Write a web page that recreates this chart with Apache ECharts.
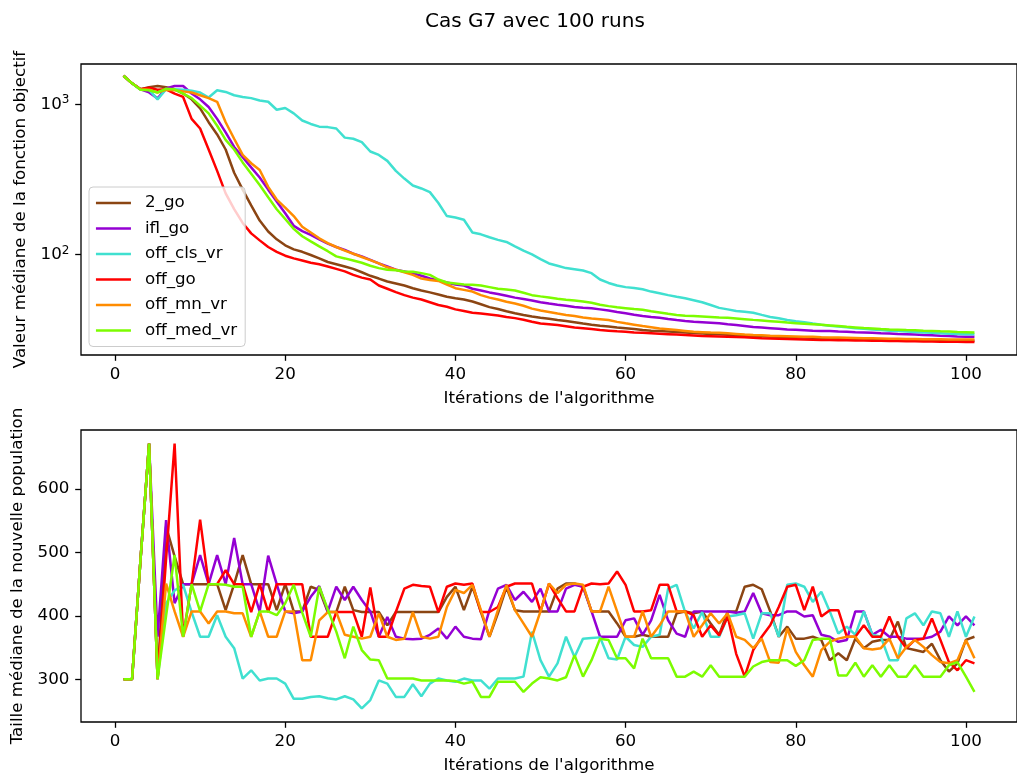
<!DOCTYPE html>
<html><head><meta charset="utf-8">
<script src="https://cdn.jsdelivr.net/npm/echarts@6/dist/echarts.min.js"></script>
<style>html,body{margin:0;padding:0;background:#fff}#c{width:1017px;height:776px}</style>
</head><body><div id="c"></div>
<script>
const seriesNames = ['2_go', 'ifl_go', 'off_cls_vr', 'off_go', 'off_mn_vr', 'off_med_vr'];
const seriesColors = ['#8B4513', '#9400D3', '#40E0D0', '#FF0000', '#FF8C00', '#7CFC00'];
const iterations = Array.from({length: 101}, (_, k) => k + 1);
const xTicks = [0, 20, 40, 60, 80, 100];
const logMajorTicks = [100, 1000];
const logMinorTicks = [30, 40, 50, 60, 70, 80, 90, 200, 300, 400, 500, 600, 700, 800, 900];
const popTicks = [300, 400, 500, 600];

// Top: median objective value (log scale)
const obj_2_go = [1550,1380,1260,1300,1325,1300,1260,1180,1080,940,
 760,630,500,350,270,212,168,142,126,115,
 108,104,99,94,89,86,83,80,76,72,
 69,66,64,62,59.5,57.5,55.8,54,52.2,51,
 50,48.5,46.5,44.5,43.2,41.8,40.5,39.4,38.5,37.8,
 37.2,36.5,36.0,35.3,34.6,34.0,33.5,33.1,32.6,32.2,
 31.8,31.3,31.0,30.8,30.6,30.4,30.1,29.9,29.7,29.5,
 29.3,29.1,29.0,28.8,28.7,28.5,28.4,28.3,28.1,28.0,
 27.9,27.8,27.7,27.6,27.5,27.4,27.4,27.3,27.2,27.2,
 27.1,27.0,27.0,26.9,26.9,26.8,26.8,26.7,26.7,26.6,
 26.6];
const obj_ifl_go = [1550,1380,1260,1200,1096,1278,1325,1325,1180,1080,
 960,800,650,520,445,380,325,270,225,188,
 155,143,135,126,118,112,107,101,97,92,
 87,83,79,77,75,72,69,67,65,63,
 62,59,57.5,55.8,54.5,53,51.5,50.5,49.3,48,
 47,46.2,45.5,44.6,44.1,43.7,43.0,42.2,41.3,40.5,
 39.6,38.9,38.3,37.8,37.1,36.5,36.0,35.6,35.3,35.0,
 34.7,34.2,33.8,33.3,32.8,32.5,32.2,31.9,31.6,31.4,
 31.2,31.0,30.9,30.8,30.6,30.5,30.3,30.2,30.0,29.8,
 29.7,29.5,29.4,29.2,29.0,28.9,28.7,28.6,28.4,28.3,
 28.2];
const obj_off_cls_vr = [1550,1380,1250,1250,1080,1260,1260,1250,1230,1200,
 1110,1240,1210,1150,1120,1100,1060,1040,920,945,
 870,780,740,710,705,690,600,590,560,485,
 460,420,360,320,288,275,260,220,180,176,
 170,140,136,130,125,121,113,106,100,93,
 87,84,81,79.5,78,75,68,64.5,62,60.5,
 59.7,58.5,56.5,55,53.5,52.2,51,49.5,48,46,
 44,43,42,41.4,40.8,39.5,38.3,37.5,36.5,35.8,
 35.3,34.6,34.0,33.5,33.1,32.7,32.2,31.9,31.6,31.3,
 31.0,30.8,30.6,30.4,30.2,30.0,29.8,29.6,29.5,29.4,
 29.3];
const obj_off_go = [1550,1380,1260,1290,1250,1260,1180,1120,800,690,
 500,360,255,200,162,138,124,112,104,98,
 94,91,88,86,83,80,77,73,70,68,
 62,59,56,53.5,51.5,50,48,46,44.8,43,
 41.9,40.8,40.3,39.8,39.2,38.2,37.6,36.7,35.6,34.6,
 34.2,33.8,33.2,32.6,32.2,31.8,31.3,31.0,30.7,30.5,
 30.2,30.0,29.8,29.6,29.4,29.2,29.0,28.8,28.6,28.5,
 28.4,28.3,28.1,28.0,27.8,27.6,27.5,27.4,27.3,27.2,
 27.1,27.0,26.9,26.9,26.8,26.8,26.7,26.7,26.6,26.6,
 26.5,26.5,26.4,26.4,26.3,26.3,26.2,26.2,26.2,26.1,
 26.1];
const obj_off_mn_vr = [1550,1380,1260,1250,1200,1250,1240,1220,1200,1150,
 1100,1040,760,590,460,405,365,282,232,205,
 180,153,140,128,119,112,106,101,96,91.6,
 87,82,79,76,73,69,67.5,66.5,63,59.5,
 58,56.5,53.5,51.5,50,48.3,47,45.5,43.5,42.3,
 41.3,40.3,39.5,38.8,38.0,37.4,37.0,36.5,35.5,34.7,
 34.0,33.3,32.7,32.1,31.7,31.3,30.9,30.5,30.3,30.1,
 30.0,29.8,29.5,29.2,29.0,28.9,28.7,28.6,28.5,28.4,
 28.3,28.2,28.0,27.9,27.9,27.8,27.7,27.6,27.6,27.5,
 27.4,27.4,27.3,27.3,27.2,27.2,27.2,27.1,27.1,27.1,
 27.1];
const obj_off_med_vr = [1550,1380,1250,1240,1200,1270,1260,1180,1100,980,
 870,720,580,500,410,345,290,240,200,172,
 148,132,122,113,105,97,94,91,88,84,
 81,79,78.5,77,76.5,75,73,68,65,64,
 63,62.8,62,60.5,59,58.3,57.5,55.5,53.5,52.5,
 51.6,50.6,49.8,49.2,48.5,47.6,46.2,45.2,44.4,43.8,
 43.2,42.7,41.8,41.0,40.2,39.5,39.0,38.8,38.6,38.3,
 38.0,37.8,37.4,37.0,36.6,36.3,35.9,35.5,35.1,34.8,
 34.5,34.2,33.9,33.6,33.3,32.9,32.6,32.3,32.1,31.8,
 31.6,31.5,31.3,31.2,31.0,30.9,30.7,30.6,30.4,30.3,
 30.2];

// Bottom: median new population size
const pop_2_go = [300,300,490,672,300,541,494,450,450,450,
 450,450,409,450,496,450,450,450,409,450,
 407,407,446,441,406,406,446,409,406,406,
 406,385,406,406,406,406,406,406,430,446,
 409,446,406,367,404,445,409,407,407,407,
 407,443,451,451,446,407,407,407,388,367,
 367,370,367,367,367,404,407,404,407,388,
 370,407,407,446,449,442,407,367,383,364,
 364,367,362,330,341,330,364,349,359,362,
 362,391,349,346,343,356,330,312,325,362,
 367];
const pop_ifl_go = [300,300,490,672,367,551,420,450,450,496,
 450,496,450,523,450,450,407,495,450,407,
 404,407,430,447,407,446,425,446,425,407,
 367,398,367,364,363,364,370,380,364,383,
 367,364,363,409,443,449,425,438,422,443,
 407,407,443,449,446,407,367,367,367,393,
 396,370,393,433,393,372,367,407,407,407,
 407,407,405,407,436,404,401,401,407,407,
 399,401,370,367,359,362,407,407,370,378,
 367,367,364,364,364,367,375,399,385,399,
 385];
const pop_off_cls_vr = [300,300,490,672,300,420,440,449,406,367,
 367,401,367,349,301,314,298,301,301,293,
 269,269,272,273,270,268,273,268,254,267,
 298,293,272,272,292,273,293,301,298,296,
 301,298,298,285,301,301,301,304,375,330,
 304,325,367,335,364,365,366,333,331,367,
 354,351,367,370,443,449,406,380,406,367,
 367,399,401,404,364,404,404,367,449,451,
 446,422,438,407,372,383,370,407,370,367,
 330,330,396,404,385,407,404,367,407,367,
 399];
const pop_off_go = [300,300,490,672,300,490,672,367,450,552,
 450,450,472,450,450,406,450,406,450,450,
 450,450,367,367,367,406,406,406,367,445,
 367,367,406,443,449,447,446,406,446,451,
 449,451,406,406,414,446,451,451,451,407,
 451,428,407,407,446,451,450,451,470,449,
 407,407,409,449,449,407,407,401,367,385,
 369,399,340,304,346,367,385,414,446,449,
 409,446,399,409,409,367,367,385,367,367,
 399,367,349,362,364,396,362,327,314,330,
 325];
const pop_off_mn_vr = [300,300,490,672,300,451,407,367,407,407,
 388,407,407,404,404,367,407,367,367,407,
 407,330,330,393,406,406,370,367,364,367,
 404,367,362,364,406,367,364,367,414,441,
 436,449,409,367,409,449,409,388,367,407,
 451,436,449,451,449,407,407,446,407,367,
 367,407,367,385,407,407,407,367,385,404,
 388,404,367,362,349,364,327,326,380,343,
 322,304,346,359,364,367,367,349,347,349,
 364,333,351,362,351,338,327,325,330,362,
 333];
const pop_off_med_vr = [300,300,490,672,300,400,496,367,450,407,
 450,450,449,446,446,367,407,407,401,420,
 449,405,367,446,410,375,333,383,346,331,
 330,301,301,301,301,298,298,298,298,297,
 293,296,272,272,296,296,296,280,293,303,
 301,298,303,338,304,330,364,362,333,333,
 317,364,333,333,333,304,304,312,304,322,
 304,304,304,304,320,327,330,330,330,321,
 330,362,364,364,306,306,326,304,322,304,
 322,304,304,322,304,304,304,322,327,304,
 280];

const objSeries = [obj_2_go, obj_ifl_go, obj_off_cls_vr, obj_off_go, obj_off_mn_vr, obj_off_med_vr];
const popSeries = [pop_2_go, pop_ifl_go, pop_off_cls_vr, pop_off_go, pop_off_mn_vr, pop_off_med_vr];

const FONT = 'DejaVu Sans';
const FS = 16.7;
const labelStyle = {color: '#000', fontSize: FS, fontFamily: FONT};
const tickStyle = {color: '#000', width: 1.3};

function xAxisFor(gridIndex) {
  return {
    gridIndex, type: 'value', min: -4, max: 106,
    axisLine: {show: false, onZero: false}, splitLine: {show: false},
    axisTick: {show: true, length: 5.8, lineStyle: tickStyle, customValues: xTicks},
    axisLabel: Object.assign({customValues: xTicks, margin: 11.6}, labelStyle),
    name: "Itérations de l'algorithme", nameLocation: 'middle', nameGap: 35,
    nameTextStyle: labelStyle
  };
}

const series = [];
seriesNames.forEach((name, s) => {
  series.push({
    type: 'line', name, xAxisIndex: 0, yAxisIndex: 0,
    data: iterations.map((x, k) => [x, objSeries[s][k]]),
    symbol: 'none', showSymbol: false,
    lineStyle: {width: 2.5, color: seriesColors[s]},
    itemStyle: {color: seriesColors[s]}
  });
});
seriesNames.forEach((name, s) => {
  series.push({
    type: 'line', name, xAxisIndex: 1, yAxisIndex: 2,
    data: iterations.map((x, k) => [x, popSeries[s][k]]),
    symbol: 'none', showSymbol: false,
    lineStyle: {width: 2.5, color: seriesColors[s]},
    itemStyle: {color: seriesColors[s]}
  });
});

const chart = echarts.init(document.getElementById('c'), null, {renderer: 'canvas'});
chart.setOption({
  animation: false,
  backgroundColor: '#fff',
  title: {
    text: 'Cas G7 avec 100 runs', left: 425, top: 12, padding: 0,
    textStyle: {fontSize: 20, fontWeight: 'normal', fontFamily: FONT, color: '#000'}
  },
  legend: {
    data: seriesNames, orient: 'vertical', left: 89, top: 187,
    padding: [7.5, 8, 7.5, 5.7], itemWidth: 35, itemHeight: 14, itemGap: 8.5,
    itemStyle: {opacity: 0},
    lineStyle: {width: 2.5},
    backgroundColor: 'rgba(255,255,255,0.8)', borderColor: '#cccccc', borderWidth: 1, borderRadius: 4,
    textStyle: {fontSize: FS, fontFamily: FONT, color: '#000', padding: [0, 0, 0, 9], lineHeight: 17}
  },
  grid: [
    {left: 81, top: 64, width: 946, height: 291, show: true, borderColor: '#000', borderWidth: 1.3, backgroundColor: 'transparent'},
    {left: 81, top: 430, width: 946, height: 292, show: true, borderColor: '#000', borderWidth: 1.3, backgroundColor: 'transparent'}
  ],
  xAxis: [xAxisFor(0), xAxisFor(1)],
  yAxis: [
    {
      gridIndex: 0, type: 'log', logBase: 10, min: 21.35, max: 1857,
      axisLine: {show: false, onZero: false}, splitLine: {show: false},
      axisTick: {show: true, length: 5.8, lineStyle: tickStyle, customValues: logMajorTicks},
      axisLabel: {
        customValues: logMajorTicks, margin: 11.6,
        formatter: v => '{b|10}{s|' + Math.round(Math.log10(v)) + '}',
        rich: {
          b: {fontSize: FS, fontFamily: FONT, color: '#000'},
          s: {fontSize: 12, fontFamily: FONT, color: '#000', verticalAlign: 'top', padding: [0, 0, 8, 0]}
        }
      },
      name: 'Valeur médiane de la fonction objectif', nameLocation: 'middle', nameGap: 52,
      nameRotate: 90, nameTextStyle: labelStyle
    },
    {
      gridIndex: 0, type: 'log', logBase: 10, min: 21.35, max: 1857,
      axisLine: {show: false, onZero: false}, splitLine: {show: false}, axisLabel: {show: false},
      axisTick: {show: true, length: 3.3, lineStyle: {color: '#000', width: 1}, customValues: logMinorTicks}
    },
    {
      gridIndex: 1, type: 'value', min: 232.4, max: 693.4,
      axisLine: {show: false, onZero: false}, splitLine: {show: false},
      axisTick: {show: true, length: 5.8, lineStyle: tickStyle, customValues: popTicks},
      axisLabel: Object.assign({customValues: popTicks, margin: 11.6}, labelStyle),
      name: 'Taille médiane de la nouvelle population', nameLocation: 'middle', nameGap: 52,
      nameRotate: 90, nameTextStyle: labelStyle
    }
  ],
  series
});
</script>
</body></html>
